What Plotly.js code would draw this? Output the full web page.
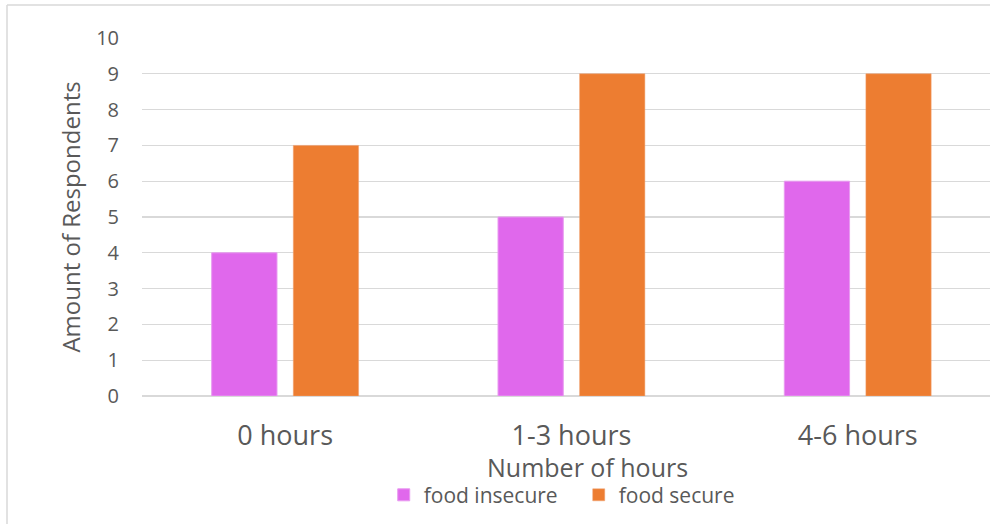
<!DOCTYPE html>
<html>
<head>
<meta charset="utf-8">
<script src="https://cdn.plot.ly/plotly-3.0.1.min.js"></script>
<style>html,body{margin:0;padding:0;background:#fff;}#chart{width:990px;height:524px;}</style>
</head>
<body>
<div id="chart"></div>
<script>
var categories = ["0 hours", "1-3 hours", "4-6 hours"];
var seriesNames = ["food insecure", "food secure"];
var foodInsecure = [4, 5, 6];
var foodSecure = [7, 9, 9];
var yTicks = [0, 1, 2, 3, 4, 5, 6, 7, 8, 9, 10];
var xTitle = "Number of hours";
var yTitle = "Amount of Respondents";

var FONT = "'Open Sans', Lato, sans-serif";
var GREY = "#595959";

var traces = [
  {type: "bar", name: seriesNames[0], x: categories, y: foodInsecure,
   marker: {color: "#E068EC", line: {color: "#E89AF0", width: 1}}},
  {type: "bar", name: seriesNames[1], x: categories, y: foodSecure,
   marker: {color: "#ED7D31", line: {color: "#F0A070", width: 0.5}}}
];

var layout = {
  width: 990, height: 524,
  margin: {l: 142, r: 0, t: 38, b: 128, autoexpand: false},
  paper_bgcolor: "#fff", plot_bgcolor: "#fff",
  barmode: "group", bargap: 0.43, bargroupgap: 0.2,
  font: {family: FONT, color: GREY},
  showlegend: true,
  legend: {orientation: "h", x: 0.515, xanchor: "center", y: -0.277, yanchor: "middle",
           font: {size: 21, color: GREY, family: FONT}, itemwidth: 30, tracegroupgap: 0,
           entrywidth: 150, entrywidthmode: "pixels"},
  xaxis: {
    type: "category", range: [-0.5, 2.462], automargin: false,
    showgrid: false, zeroline: false, showline: false, ticks: "",
    tickfont: {size: 27, color: GREY, family: FONT}, ticklabelstandoff: 21
  },
  yaxis: {
    range: [0, 10], tickvals: yTicks, automargin: false,
    showgrid: true, gridcolor: "#d9d9d9", gridwidth: 1.3,
    zeroline: true, zerolinecolor: "#d9d9d9", zerolinewidth: 1.3,
    showline: false, ticks: "",
    tickfont: {size: 20, color: GREY, family: FONT}, ticklabelstandoff: 22,
    title: {text: yTitle, font: {size: 24, color: GREY, family: FONT}, standoff: 8}
  },
  annotations: [
    {text: xTitle, xref: "paper", yref: "paper", x: 0.5248, y: -0.1983,
     xanchor: "center", yanchor: "middle", showarrow: false,
     font: {size: 25, color: GREY, family: FONT}}
  ],
  shapes: [
    {type: "line", xref: "paper", yref: "paper", x0: -0.1592, x1: -0.1592, y0: 1.0922, y1: -0.4, line: {color: "#d9d9d9", width: 1.5}},
    {type: "line", xref: "paper", yref: "paper", x0: -0.1592, x1: 1.01, y0: 1.0922, y1: 1.0922, line: {color: "#d9d9d9", width: 1.5}}
  ]
};

Plotly.newPlot("chart", traces, layout, {displayModeBar: false, staticPlot: true});
</script>
</body>
</html>
